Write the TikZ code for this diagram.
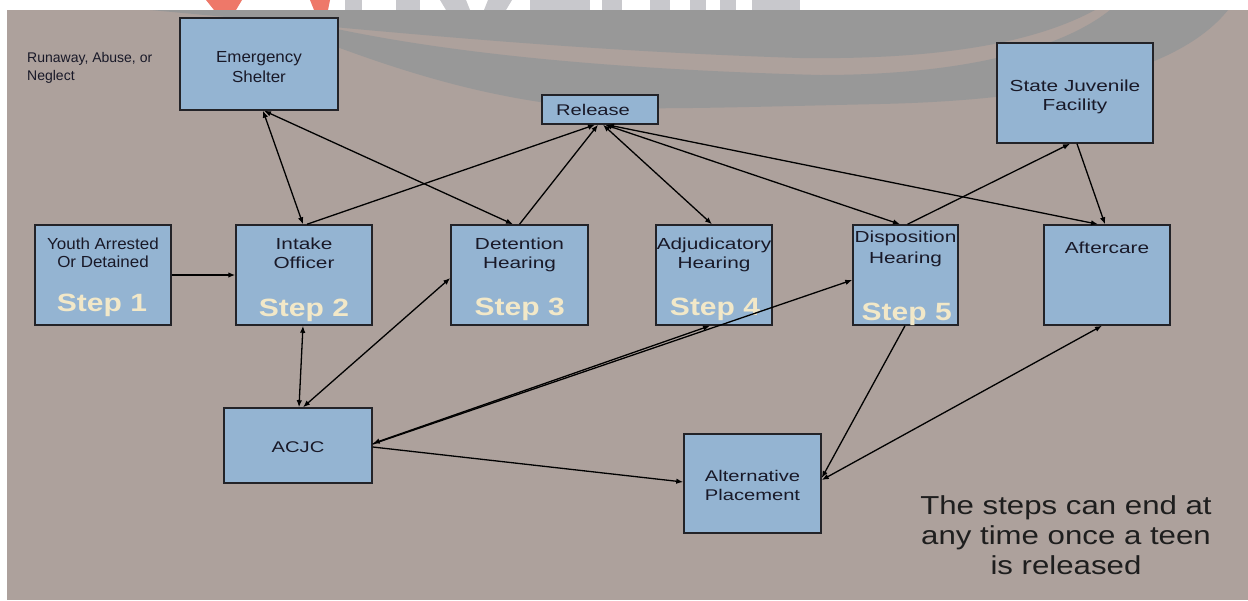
\documentclass[tikz,border=0pt]{standalone}
\usepackage{fontspec}
\setmainfont{Liberation Sans}
\newfontfamily\fA{Liberation Sans}[FakeStretch=1.06]
\newfontfamily\fB{Liberation Sans}[FakeStretch=1.3]
\newfontfamily\fC{Liberation Sans}[FakeStretch=1.2]
\usetikzlibrary{arrows.meta}
\definecolor{bgc}{RGB}{173,161,156}
\definecolor{swc}{RGB}{152,152,152}
\definecolor{boxfill}{RGB}{148,180,210}
\definecolor{boxline}{RGB}{35,35,40}
\definecolor{txtc}{RGB}{25,25,40}
\definecolor{stepc}{RGB}{242,232,200}
\definecolor{notec}{RGB}{30,30,30}
\definecolor{wmgray}{RGB}{200,200,204}
\definecolor{wmred}{RGB}{238,120,105}
\tikzset{
  box/.style={rectangle, draw=boxline, fill=boxfill, line width=1.5pt, inner sep=0pt},
  tx/.style={anchor=base, inner sep=0pt, text=txtc},
  txA/.style={tx, font=\fA\fontsize{16}{19}\selectfont},
  txB/.style={tx, font=\fB\fontsize{16}{19}\selectfont},
  txC/.style={tx, font=\fB\fontsize{15.5}{19}\selectfont},
  steplbl/.style={anchor=base, inner sep=0pt, text=stepc, font=\fC\bfseries\fontsize{25}{30}\selectfont},
  notetx/.style={anchor=base, inner sep=0pt, text=notec, font=\fC\fontsize{26}{30}\selectfont},
  con/.style={draw=black, line width=1.3pt, arrows={-}, >={Latex[length=7pt,width=5.5pt]}}
}
\begin{document}
\begin{tikzpicture}[x=1pt,y=-1pt]
\useasboundingbox (0,0) rectangle (1248,600);
\fill[white] (0,0) rectangle (1248,600);
% watermark fragments in the top strip
\fill[wmred] (206,0) -- (242,0) -- (236,10) -- (214,10) -- cycle;
\fill[wmred] (310,0) -- (330,0) -- (328,10) -- (314,10) -- cycle;
\fill[wmgray] (345,0) rectangle (362,10);
\fill[wmgray] (396,0) rectangle (420,10);
\fill[wmgray] (440,0) -- (466,0) -- (470,10) -- (446,10) -- cycle;
\fill[wmgray] (488,0) -- (512,0) -- (506,10) -- (484,10) -- cycle;
\fill[wmgray] (530,0) rectangle (590,10);
\fill[wmgray] (602,0) rectangle (622,10);
\fill[wmgray] (650,0) rectangle (670,10);
\fill[wmgray] (690,0) rectangle (706,10);
\fill[wmgray] (720,0) rectangle (736,10);
\fill[wmgray] (752,0) rectangle (800,10);
\fill[bgc] (7,10) rectangle (1248,600);
\begin{scope}
\clip (7,10) rectangle (1248,600);
% upper swoosh band
\fill[swc] (150,10) .. controls (350,28) and (550,50) .. (800,58)
  .. controls (950,60) and (1040,40) .. (1095,10) -- cycle;
% lower swoosh band
\fill[swc] (260,10) .. controls (380,45) and (560,68) .. (820,75)
  .. controls (960,75) and (1060,50) .. (1110,10)
  -- (1228,10) .. controls (1180,70) and (1060,100) .. (880,104)
  .. controls (700,108) and (600,112) .. (540,102)
  .. controls (420,84) and (320,40) .. (240,10) -- cycle;
\end{scope}

% boxes
\node[box, minimum width=158pt, minimum height=92pt] (es) at (259,64) {};
\node[box, minimum width=116pt, minimum height=29pt] (rel) at (600,109.5) {};
\node[box, minimum width=156pt, minimum height=100pt] (sjf) at (1075,93) {};
\node[box, minimum width=136pt, minimum height=100pt] (youth) at (103,275) {};
\node[box, minimum width=136pt, minimum height=100pt] (intake) at (304,275) {};
\node[box, minimum width=137pt, minimum height=100pt] (det) at (519.5,275) {};
\node[box, minimum width=116pt, minimum height=100pt] (adj) at (714,275) {};
\node[box, minimum width=105pt, minimum height=100pt] (disp) at (905.5,275) {};
\node[box, minimum width=126pt, minimum height=100pt] (aft) at (1107,275) {};
\node[box, minimum width=148pt, minimum height=75pt] (acjc) at (298,445.5) {};
\node[box, minimum width=137pt, minimum height=99pt] (ap) at (752.5,483.5) {};

% texts
\node[tx, anchor=base west, font=\fontsize{14}{18}\selectfont] (run1) at (27,62) {Runaway, Abuse, or};
\node[tx, anchor=base west, font=\fontsize{14}{18}\selectfont] (run2) at (27,80) {Neglect};
\node[txA] (es1) at (259,62) {Emergency};
\node[txA] (es2) at (259,82) {Shelter};
\node[txB, font=\fB\fontsize{15.5}{18}\selectfont] (rel1) at (593,115.5) {Release};
\node[txB] (sjf1) at (1075,91) {State Juvenile};
\node[txB] (sjf2) at (1075,110) {Facility};
\node[txA] (y1) at (103,249) {Youth Arrested};
\node[txA] (y2) at (103,267) {Or Detained};
\node[txB] (i1) at (304,249) {Intake};
\node[txB] (i2) at (304,268) {Officer};
\node[txB] (d1) at (519.5,249) {Detention};
\node[txB] (d2) at (519.5,268) {Hearing};
\node[txB] (a1) at (714,249) {Adjudicatory};
\node[txB] (a2) at (714,268) {Hearing};
\node[txB] (p1) at (905.5,242) {Disposition};
\node[txB] (p2) at (905.5,263) {Hearing};
\node[txB] (af1) at (1107,253) {Aftercare};
\node[txC] (ac1) at (298,452.5) {ACJC};
\node[txC] (ap1) at (752.5,481.5) {Alternative};
\node[txC] (ap2) at (752.5,500.5) {Placement};
\node[steplbl] (s1) at (102,311) {Step 1};
\node[steplbl] (s2) at (304,316) {Step 2};
\node[steplbl] (s3) at (519.7,315) {Step 3};
\node[steplbl] (s4) at (715,315) {Step 4};
\node[steplbl] (s5) at (906.7,320) {Step 5};
\node[notetx] (n1) at (1066,514.5) {The steps can end at};
\node[notetx] (n2) at (1066,544.5) {any time once a teen};
\node[notetx] (n3) at (1066,574.5) {is released};

% connectors
\draw[con,->] (youth.east) -- (intake.west);
\draw[con,<->] ([xshift=4pt]es.south) -- ([xshift=-1pt]intake.north);
\draw[con,<->] ([xshift=5pt]es.south) -- ([xshift=-6.5pt]det.north);
\draw[con,->] ([xshift=3pt]intake.north) -- ([xshift=-5pt]rel.south);
\draw[con,->] (det.north) -- ([xshift=-2pt]rel.south);
\draw[con,<->] ([xshift=3pt]rel.south) -- ([xshift=-2pt]adj.north);
\draw[con,<->] ([xshift=5pt]rel.south) -- ([xshift=-5.5pt]disp.north);
\draw[con,<->] ([xshift=7pt]rel.south) -- ([xshift=-9pt]aft.north);
\draw[con,->] ([xshift=2pt]disp.north) -- ([xshift=-5pt]sjf.south);
\draw[con,->] ([xshift=2pt]sjf.south) -- ([xshift=-2pt]aft.north);
\draw[con,<->] ([xshift=-1pt]intake.south) -- ([xshift=1pt]acjc.north);
\draw[con,<->] ([xshift=5pt]acjc.north) -- ([yshift=-3pt]det.west);
\draw[con,<->] ([yshift=2pt]acjc.east) -- ([xshift=-4pt]adj.south);
\draw[con,->] ([yshift=1.5pt]acjc.east) -- ([yshift=-5pt]disp.west);
\draw[con,->] ([yshift=-1.5pt]acjc.east) -- ([yshift=1.5pt]ap.west);
\draw[con,->] ([xshift=-0.5pt]disp.south) -- ([yshift=5.5pt]ap.east);
\draw[con,<->] ([yshift=3.5pt]ap.east) -- ([xshift=-5pt]aft.south);
\end{tikzpicture}
\end{document}
